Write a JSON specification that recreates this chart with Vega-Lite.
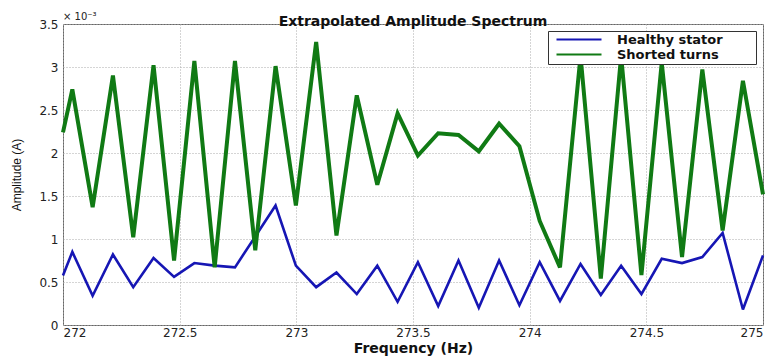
{
  "$schema": "https://vega.github.io/schema/vega-lite/v6.json",
  "width": 700,
  "height": 301,
  "autosize": "none",
  "padding": {"left": 63, "top": 24, "right": 19, "bottom": 35},
  "background": "white",
  "title": {"text": "Extrapolated Amplitude Spectrum", "font": "DejaVu Sans", "fontSize": 14, "fontWeight": "bold", "color": "#111", "baseline": "alphabetic", "offset": -28, "anchor": "middle"},
  "config": {
    "view": {"stroke": "#666", "strokeWidth": 1},
    "axis": {"gridColor": "#aaa", "gridDash": [1, 2], "gridWidth": 1, "domain": false, "ticks": false, "labelFont": "DejaVu Sans", "labelFontSize": 12, "labelColor": "#222", "titleColor": "#111"},
    "legend": {"orient": "top-right", "offset": 7, "strokeColor": "#333", "fillColor": "white", "padding": 2, "labelFont": "DejaVu Sans", "labelFontSize": 13, "labelFontWeight": "bold", "labelColor": "#111", "symbolType": "M-1,0H8", "symbolSize": 100, "symbolStrokeWidth": 2, "symbolOffset": 5, "labelOffset": 49, "rowPadding": 1}
  },
  "datasets": {
    "spectrum": [
      {"freq": 272.000, "amp": 0.000575, "series": "Healthy stator"},
      {"freq": 272.040, "amp": 0.00085, "series": "Healthy stator"},
      {"freq": 272.127, "amp": 0.00034, "series": "Healthy stator"},
      {"freq": 272.214, "amp": 0.00082, "series": "Healthy stator"},
      {"freq": 272.301, "amp": 0.00044, "series": "Healthy stator"},
      {"freq": 272.388, "amp": 0.00078, "series": "Healthy stator"},
      {"freq": 272.476, "amp": 0.00056, "series": "Healthy stator"},
      {"freq": 272.563, "amp": 0.00072, "series": "Healthy stator"},
      {"freq": 272.650, "amp": 0.00069, "series": "Healthy stator"},
      {"freq": 272.737, "amp": 0.00067, "series": "Healthy stator"},
      {"freq": 272.824, "amp": 0.00103, "series": "Healthy stator"},
      {"freq": 272.911, "amp": 0.00139, "series": "Healthy stator"},
      {"freq": 272.998, "amp": 0.00069, "series": "Healthy stator"},
      {"freq": 273.085, "amp": 0.00044, "series": "Healthy stator"},
      {"freq": 273.172, "amp": 0.00061, "series": "Healthy stator"},
      {"freq": 273.259, "amp": 0.00036, "series": "Healthy stator"},
      {"freq": 273.347, "amp": 0.00069, "series": "Healthy stator"},
      {"freq": 273.434, "amp": 0.00027, "series": "Healthy stator"},
      {"freq": 273.521, "amp": 0.00073, "series": "Healthy stator"},
      {"freq": 273.608, "amp": 0.00022, "series": "Healthy stator"},
      {"freq": 273.695, "amp": 0.00075, "series": "Healthy stator"},
      {"freq": 273.782, "amp": 0.00020, "series": "Healthy stator"},
      {"freq": 273.869, "amp": 0.00075, "series": "Healthy stator"},
      {"freq": 273.956, "amp": 0.00023, "series": "Healthy stator"},
      {"freq": 274.043, "amp": 0.00073, "series": "Healthy stator"},
      {"freq": 274.130, "amp": 0.00028, "series": "Healthy stator"},
      {"freq": 274.218, "amp": 0.00071, "series": "Healthy stator"},
      {"freq": 274.305, "amp": 0.00035, "series": "Healthy stator"},
      {"freq": 274.392, "amp": 0.00069, "series": "Healthy stator"},
      {"freq": 274.479, "amp": 0.00036, "series": "Healthy stator"},
      {"freq": 274.566, "amp": 0.00077, "series": "Healthy stator"},
      {"freq": 274.653, "amp": 0.00072, "series": "Healthy stator"},
      {"freq": 274.740, "amp": 0.00079, "series": "Healthy stator"},
      {"freq": 274.827, "amp": 0.00107, "series": "Healthy stator"},
      {"freq": 274.914, "amp": 0.00018, "series": "Healthy stator"},
      {"freq": 275.000, "amp": 0.00081, "series": "Healthy stator"},
      {"freq": 272.000, "amp": 0.00224, "series": "Shorted turns"},
      {"freq": 272.040, "amp": 0.00274, "series": "Shorted turns"},
      {"freq": 272.127, "amp": 0.00137, "series": "Shorted turns"},
      {"freq": 272.214, "amp": 0.00290, "series": "Shorted turns"},
      {"freq": 272.301, "amp": 0.00102, "series": "Shorted turns"},
      {"freq": 272.388, "amp": 0.00302, "series": "Shorted turns"},
      {"freq": 272.476, "amp": 0.00075, "series": "Shorted turns"},
      {"freq": 272.563, "amp": 0.00307, "series": "Shorted turns"},
      {"freq": 272.650, "amp": 0.00067, "series": "Shorted turns"},
      {"freq": 272.737, "amp": 0.00307, "series": "Shorted turns"},
      {"freq": 272.824, "amp": 0.00087, "series": "Shorted turns"},
      {"freq": 272.911, "amp": 0.00301, "series": "Shorted turns"},
      {"freq": 272.998, "amp": 0.00139, "series": "Shorted turns"},
      {"freq": 273.085, "amp": 0.00329, "series": "Shorted turns"},
      {"freq": 273.172, "amp": 0.00104, "series": "Shorted turns"},
      {"freq": 273.259, "amp": 0.00267, "series": "Shorted turns"},
      {"freq": 273.347, "amp": 0.00163, "series": "Shorted turns"},
      {"freq": 273.434, "amp": 0.00246, "series": "Shorted turns"},
      {"freq": 273.521, "amp": 0.00197, "series": "Shorted turns"},
      {"freq": 273.608, "amp": 0.00223, "series": "Shorted turns"},
      {"freq": 273.695, "amp": 0.00221, "series": "Shorted turns"},
      {"freq": 273.782, "amp": 0.00202, "series": "Shorted turns"},
      {"freq": 273.869, "amp": 0.00234, "series": "Shorted turns"},
      {"freq": 273.956, "amp": 0.00208, "series": "Shorted turns"},
      {"freq": 274.043, "amp": 0.00121, "series": "Shorted turns"},
      {"freq": 274.130, "amp": 0.00067, "series": "Shorted turns"},
      {"freq": 274.218, "amp": 0.00313, "series": "Shorted turns"},
      {"freq": 274.305, "amp": 0.00054, "series": "Shorted turns"},
      {"freq": 274.392, "amp": 0.00313, "series": "Shorted turns"},
      {"freq": 274.479, "amp": 0.00058, "series": "Shorted turns"},
      {"freq": 274.566, "amp": 0.00305, "series": "Shorted turns"},
      {"freq": 274.653, "amp": 0.00079, "series": "Shorted turns"},
      {"freq": 274.740, "amp": 0.00297, "series": "Shorted turns"},
      {"freq": 274.827, "amp": 0.00110, "series": "Shorted turns"},
      {"freq": 274.914, "amp": 0.00284, "series": "Shorted turns"},
      {"freq": 275.000, "amp": 0.00152, "series": "Shorted turns"}
    ]
  },
  "layer": [
    {
      "data": {"name": "spectrum"},
      "transform": [{"filter": "datum.series === 'Healthy stator'"}],
      "mark": {"type": "line", "strokeWidth": 2.6, "strokeJoin": "miter", "strokeMiterLimit": 3},
      "encoding": {
        "x": {"field": "freq", "type": "quantitative", "scale": {"domain": [272, 275], "nice": false, "zero": false},
              "axis": {"values": [272, 272.5, 273, 273.5, 274, 274.5, 275], "format": ".1~f", "labelPadding": 2, "title": "Frequency (Hz)", "titleFont": "DejaVu Sans", "titleFontSize": 14, "titleFontWeight": "bold", "titlePadding": 3}},
        "y": {"field": "amp", "type": "quantitative", "scale": {"domain": [0, 0.0035], "nice": false},
              "axis": {"values": [0, 0.0005, 0.001, 0.0015, 0.002, 0.0025, 0.003, 0.0035], "labelExpr": "format(datum.value * 1000, '.2~f')", "labelPadding": 5, "title": "Amplitude (A)", "titleFont": "Liberation Sans", "titleFontSize": 12, "titleFontWeight": "normal", "titlePadding": 15}},
        "color": {"field": "series", "type": "nominal", "scale": {"domain": ["Healthy stator", "Shorted turns"], "range": ["#1616b4", "#107a14"]}, "legend": {"title": null, "labelExpr": "datum.label + '\u2800\u2800\u2800'"}}
      }
    },
    {
      "data": {"name": "spectrum"},
      "transform": [{"filter": "datum.series === 'Shorted turns'"}],
      "mark": {"type": "line", "strokeWidth": 4, "strokeJoin": "miter", "strokeMiterLimit": 3},
      "encoding": {
        "x": {"field": "freq", "type": "quantitative"},
        "y": {"field": "amp", "type": "quantitative"},
        "color": {"field": "series", "type": "nominal"}
      }
    },
    {
      "data": {"values": [{}]},
      "mark": {"type": "text", "text": "× 10⁻³", "align": "left", "baseline": "alphabetic", "dy": -4, "font": "DejaVu Sans", "fontSize": 10, "color": "#222"},
      "encoding": {"x": {"datum": 272}, "y": {"datum": 0.0035}}
    }
  ]
}
